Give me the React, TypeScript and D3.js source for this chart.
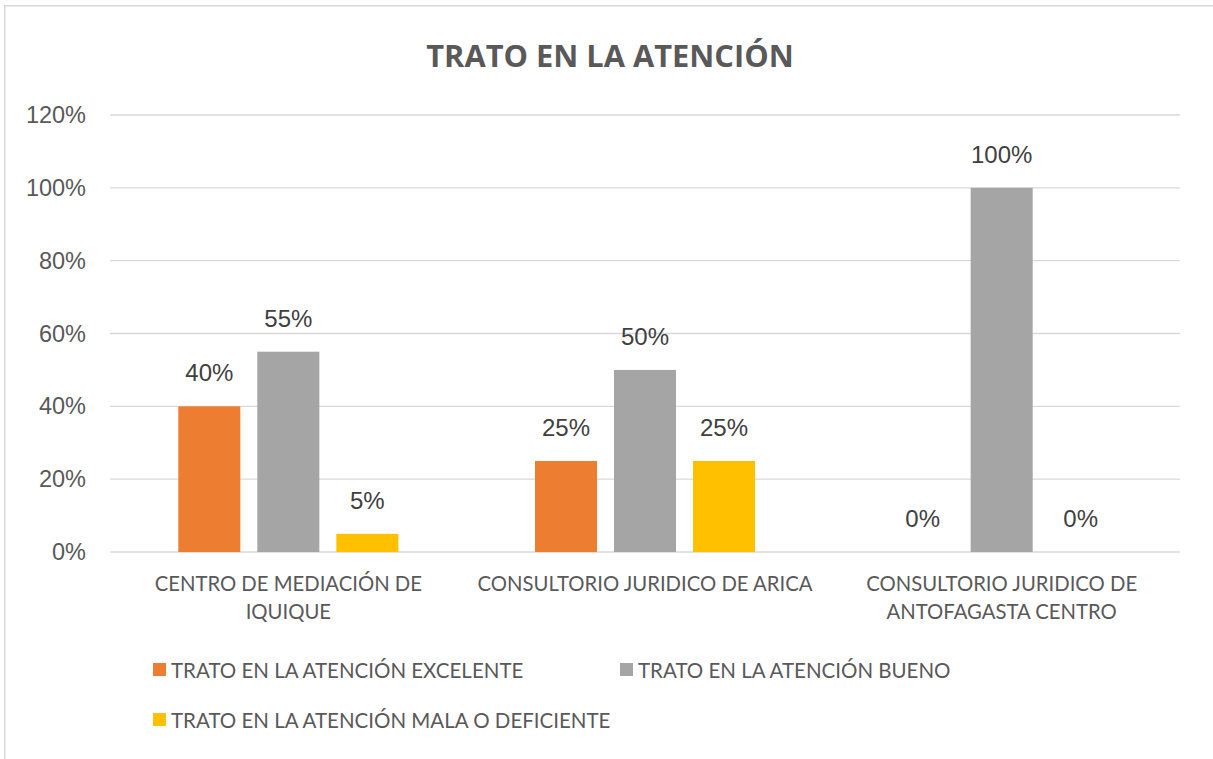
import React from "react";
import * as d3 from "d3";

const categories = [
  ["CENTRO DE MEDIACIÓN DE", "IQUIQUE"],
  ["CONSULTORIO JURIDICO DE ARICA"],
  ["CONSULTORIO JURIDICO DE", "ANTOFAGASTA CENTRO"],
];
const seriesNames = [
  "TRATO EN LA ATENCIÓN EXCELENTE",
  "TRATO EN LA ATENCIÓN BUENO",
  "TRATO EN LA ATENCIÓN MALA O DEFICIENTE",
];
const seriesColors = ["#ED7D31", "#A5A5A5", "#FFC000"];
const excelente = [0.4, 0.25, 0];
const bueno = [0.55, 0.5, 1.0];
const mala = [0.05, 0.25, 0];
const yTicks = [0, 0.2, 0.4, 0.6, 0.8, 1.0, 1.2];
const title = "TRATO EN LA ATENCIÓN";

const W = 1213;
const H = 759;
const plot = { left: 110, right: 1180, top: 115, bottom: 552 };
const labelFont = "'Liberation Sans', Arial, sans-serif";
const textFont = "Lato, 'Open Sans', sans-serif";

export default function App() {
  const series = [excelente, bueno, mala];
  const catIdx = categories.map((_, i) => String(i));
  const x0 = d3.scaleBand().domain(catIdx).range([plot.left, plot.right]).padding(0);
  const groupW = x0.bandwidth() * 0.617;
  const x1 = d3
    .scaleBand()
    .domain(seriesNames)
    .range([(x0.bandwidth() - groupW) / 2, (x0.bandwidth() + groupW) / 2])
    .paddingInner(0.215);
  const y = d3.scaleLinear().domain([0, 1.2]).range([plot.bottom, plot.top]);
  const fmt = d3.format(".0%");

  const legendItems = [
    { name: seriesNames[0], color: seriesColors[0], x: 153, y: 663 },
    { name: seriesNames[1], color: seriesColors[1], x: 620, y: 663 },
    { name: seriesNames[2], color: seriesColors[2], x: 153, y: 713 },
  ];

  return (
    <svg
      width={W}
      height={H}
      style={{ position: "absolute", left: 0, top: 0, background: "#fff" }}
    >
      <rect x={0} y={0} width={W} height={H} fill="#fff" />
      <rect
        x={4.75}
        y={5.75}
        width={W + 20}
        height={H + 20}
        fill="none"
        stroke="#d9d9d9"
        strokeWidth={1.5}
      />
      <text
        x={610}
        y={67}
        textAnchor="middle"
        fontFamily={"'Open Sans', sans-serif"}
        fontWeight={700}
        fontSize={30.8}
        fill="#595959"
      >
        {title}
      </text>
      {yTicks.map((t) => (
        <g key={t}>
          <line
            x1={plot.left}
            x2={plot.right}
            y1={y(t)}
            y2={y(t)}
            stroke="#d9d9d9"
            strokeWidth={1.3}
          />
          <text
            x={86}
            y={y(t) + 8}
            textAnchor="end"
            fontFamily={labelFont}
            fontSize={23.5}
            fill="#595959"
          >
            {fmt(t)}
          </text>
        </g>
      ))}
      {categories.map((cat, ci) => (
        <g key={ci} transform={`translate(${x0(String(ci))},0)`}>
          {series.map((vals, si) => {
            const v = vals[ci];
            const bx = x1(seriesNames[si])!;
            return (
              <g key={si}>
                <rect
                  x={bx}
                  y={y(v)}
                  width={x1.bandwidth()}
                  height={y(0) - y(v)}
                  fill={seriesColors[si]}
                />
                <text
                  x={bx + x1.bandwidth() / 2}
                  y={y(v) - 25}
                  textAnchor="middle"
                  fontFamily={labelFont}
                  fontSize={24}
                  fill="#404040"
                >
                  {fmt(v)}
                </text>
              </g>
            );
          })}
          {cat.map((line, li) => (
            <text
              key={li}
              x={x0.bandwidth() / 2}
              y={591 + li * 28}
              textAnchor="middle"
              fontFamily={textFont}
              fontSize={20.3}
              fill="#595959"
            >
              {line}
            </text>
          ))}
        </g>
      ))}
      {legendItems.map((it) => (
        <g key={it.name}>
          <rect x={it.x} y={it.y} width={13} height={13} fill={it.color} />
          <text
            x={it.x + 18}
            y={it.y + 15}
            fontFamily={textFont}
            fontSize={20.5}
            fill="#595959"
          >
            {it.name}
          </text>
        </g>
      ))}
    </svg>
  );
}
